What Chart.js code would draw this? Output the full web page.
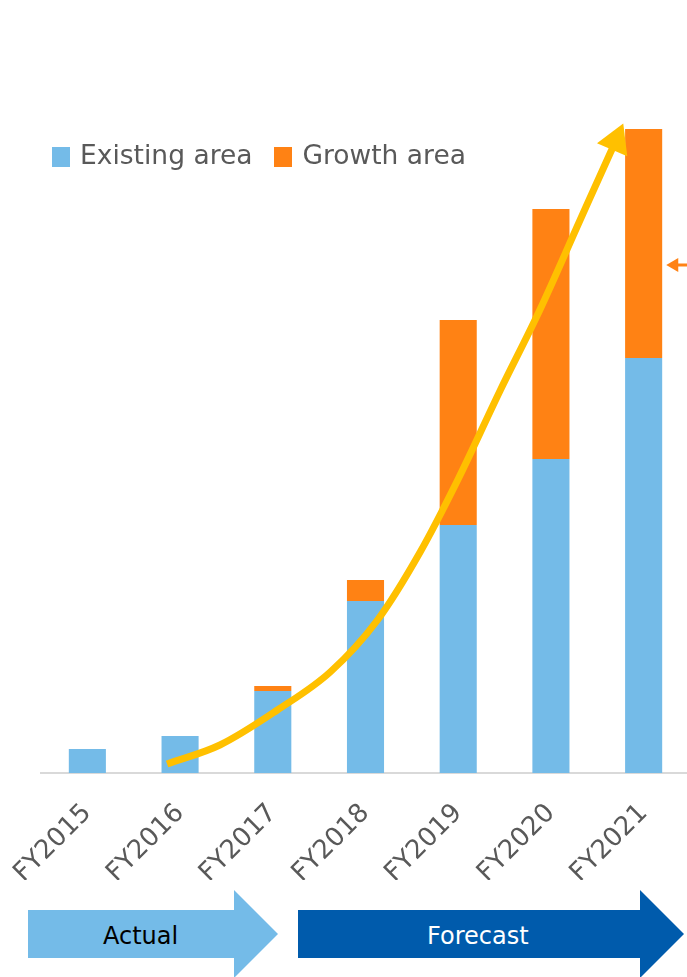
<!DOCTYPE html>
<html>
<head>
<meta charset="utf-8">
<script src="https://cdn.jsdelivr.net/npm/chart.js@4"></script>
<style>
  html, body { margin: 0; padding: 0; background: #fff; overflow: hidden; width: 687px; height: 977px; }
  #myChart { position: absolute; left: 0; top: 0; }
  #legend { position: absolute; left: 52px; top: 139px; font: 26.5px "DejaVu Sans"; color: #595959; display: flex; align-items: center; }
  #legend .item { display: flex; align-items: center; margin-right: 22px; }
  #legend .sw { display: inline-block; width: 18px; height: 20px; margin-right: 10px; margin-top: 4px; }
  .arrow { position: absolute; top: 890px; height: 88px;
    clip-path: polygon(0 20px, calc(100% - 44px) 20px, calc(100% - 44px) 0, 100% 50%, calc(100% - 44px) 100%, calc(100% - 44px) 68px, 0 68px); }
  .arrow span { position: absolute; top: 32px; font: 24px "DejaVu Sans"; }
</style>
</head>
<body>
<canvas id="myChart" width="690" height="880"></canvas>
<div id="legend"></div>
<div class="arrow" style="left:28px;width:250px;background:#74BBE8"><span style="left:75px;color:#000">Actual</span></div>
<div class="arrow" style="left:298px;width:386px;background:#005BAC"><span style="left:129px;color:#fff">Forecast</span></div>
<script>
const years = ["FY2015", "FY2016", "FY2017", "FY2018", "FY2019", "FY2020", "FY2021"];
const existing = [24, 37, 82, 172, 248, 314, 415];
const growth = [0, 0, 5, 21, 205, 250, 229];

// trend curve, x is a position along the categories (0 = FY2015)
const trendX = [0.86, 1.43, 2.05, 2.62, 3.13, 3.59, 4.0, 4.45, 4.88, 5.31, 5.64, 5.70];
const trendY = [9, 28, 63, 101, 153, 221, 294, 382, 463, 552, 620, 632];
const headX = [5.70];
const headY = [632];
const sideX = [6.5, 6.33];
const sideY = [508, 508];

const blue = "#74BBE8";
const orange = "#FF8214";
const gold = "#FFC000";

const pts = (xs, ys) => xs.map((x, i) => ({ x: x, y: ys[i] }));

const chart = new Chart(document.getElementById("myChart"), {
  type: "bar",
  data: {
    labels: years,
    datasets: [
      { label: "Existing area", data: existing, backgroundColor: blue, grouped: false, order: 3 },
      { label: "Growth area", data: growth, backgroundColor: orange, grouped: false, order: 3 },
      {
        type: "line", label: "trend", data: pts(trendX, trendY), xAxisID: "x2", yAxisID: "y2",
        borderColor: gold, borderWidth: 7, cubicInterpolationMode: "monotone", pointRadius: 0, order: 1,
      },
      {
        type: "line", label: "head", data: pts(headX, headY), xAxisID: "x2", yAxisID: "y2",
        showLine: false, pointStyle: "triangle", pointRadius: 19, rotation: 23,
        backgroundColor: gold, borderWidth: 0, order: 0,
      },
      {
        type: "line", label: "side", data: pts(sideX, sideY), xAxisID: "x2", yAxisID: "y2",
        borderColor: orange, borderWidth: 3, pointStyle: "triangle",
        pointRadius: [0, 8], rotation: 270, pointBackgroundColor: orange, pointBorderWidth: 0, order: 0,
      },
    ],
  },
  options: {
    responsive: false,
    animation: false,
    datasets: { bar: { barPercentage: 0.4, categoryPercentage: 1 } },
    layout: { autoPadding: false, padding: { left: 41, top: 73, right: 0, bottom: 0 } },
    plugins: { legend: { display: false }, tooltip: { enabled: false } },
    scales: {
      x: {
        stacked: true,
        grid: { display: false, drawTicks: false },
        border: { display: true, color: "#D9D9D9", width: 2 },
        ticks: {
          color: "#595959",
          font: { family: "DejaVu Sans", size: 26 },
          minRotation: 45,
          maxRotation: 45,
          autoSkip: false,
          padding: 25,
        },
        afterFit: (scale) => {
          scale.height = 107;
          scale.paddingLeft = 0;
          scale.paddingRight = 0;
        },
      },
      x2: { type: "linear", display: false, offset: false, grid: { offset: false }, min: -0.5, max: 6.5 },
      y: { stacked: true, display: false, min: 0, max: 700 },
      y2: { type: "linear", display: false, min: 0, max: 700 },
    },
  },
});

// html legend from the two bar series
const legend = document.getElementById("legend");
chart.data.datasets.slice(0, 2).forEach((ds) => {
  const item = document.createElement("div");
  item.className = "item";
  item.innerHTML = '<span class="sw" style="background:' + ds.backgroundColor + '"></span>' + ds.label;
  legend.appendChild(item);
});
</script>
</body>
</html>
